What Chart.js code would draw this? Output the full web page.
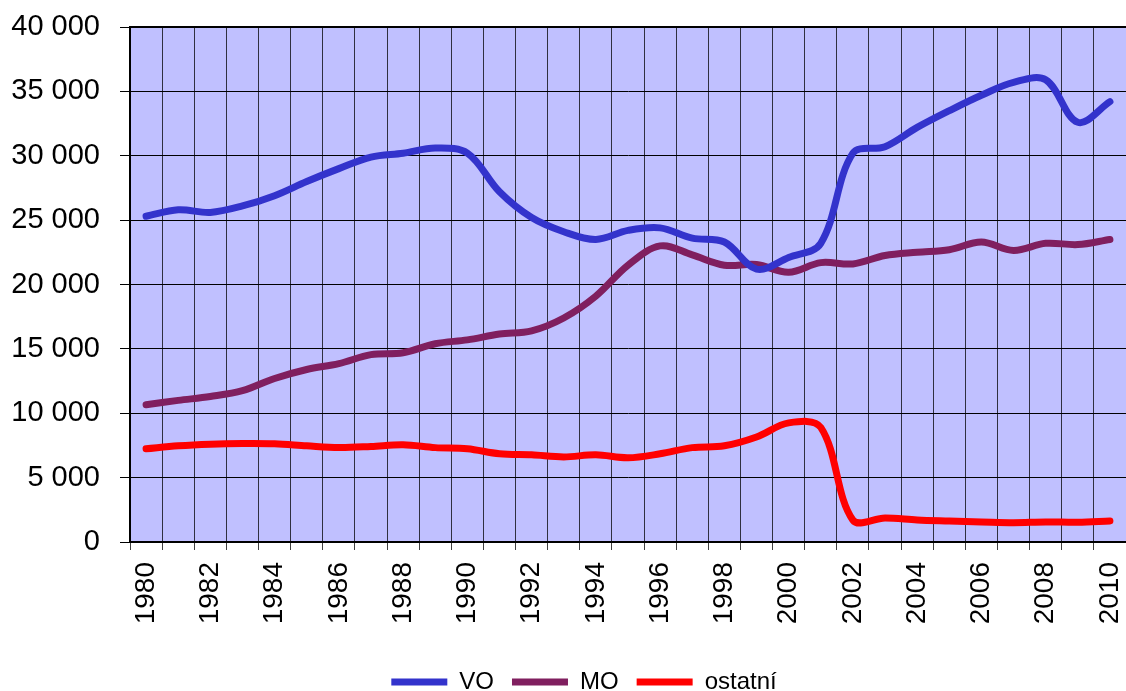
<!DOCTYPE html>
<html>
<head>
<meta charset="utf-8">
<script src="https://cdn.jsdelivr.net/npm/chart.js@4/dist/chart.umd.min.js"></script>
<style>
  html, body { margin: 0; padding: 0; background: #fff; }
  canvas { display: block; }
</style>
</head>
<body>
<canvas id="grafica" width="1126" height="691"></canvas>
<script>
// --- Datos ---
const roky = ['1980','1981','1982','1983','1984','1985','1986','1987','1988','1989',
              '1990','1991','1992','1993','1994','1995','1996','1997','1998','1999',
              '2000','2001','2002','2003','2004','2005','2006','2007','2008','2009','2010'];

const hodnotyVO = [25300, 25800, 25600, 26100, 26900, 28000, 29000, 29900, 30200, 30600,
                   30200, 27200, 25200, 24100, 23500, 24200, 24400, 23600, 23300, 21200,
                   22100, 23200, 30200, 30700, 32200, 33500, 34700, 35700, 35900, 32600, 34200];

const hodnotyMO = [10660, 11000, 11300, 11750, 12700, 13400, 13850, 14550, 14700, 15400,
                   15700, 16150, 16400, 17400, 19100, 21500, 23000, 22300, 21500, 21550,
                   20950, 21700, 21600, 22250, 22500, 22700, 23300, 22650, 23200, 23100, 23500];

const hodnotyOstatni = [7240, 7470, 7600, 7650, 7630, 7470, 7340, 7420, 7550, 7330,
                        7240, 6850, 6770, 6610, 6770, 6540, 6850, 7330, 7470, 8150,
                        9250, 8900, 1700, 1870, 1710, 1630, 1560, 1500, 1560, 1530, 1630];

const osaY = { min: 0, max: 40000, krok: 5000 };

const fuente = "'Liberation Sans', Arial, sans-serif";

// Fondo y marco del área de trazado
const fondoPlot = {
    id: 'fondoPlot',
    afterLayout(chart) {
        // movemos la leyenda abajo y un poco a la derecha
        const lg = chart.legend;
        if (lg) {
            lg.top += 13;
            lg.bottom += 13;
            lg.left += 21;
            lg.right += 21;
        }
    },
    beforeDraw(chart) {
        const { ctx, chartArea: a } = chart;
        ctx.save();
        ctx.fillStyle = '#C0C0FF';
        ctx.fillRect(a.left, a.top, a.right - a.left, a.bottom - a.top);
        ctx.restore();
    },
    afterDatasetsDraw(chart) {
        const { ctx, chartArea: a } = chart;
        ctx.save();
        ctx.strokeStyle = '#000';
        ctx.lineWidth = 2;
        ctx.beginPath();
        ctx.moveTo(a.left, a.top);
        ctx.lineTo(a.right, a.top);
        ctx.stroke();
        ctx.restore();
    }
};

const serie = (label, data, color) => ({
    label,
    data,
    borderColor: color,
    backgroundColor: color,
    borderWidth: 7,
    borderCapStyle: 'round',
    borderJoinStyle: 'round',
    pointRadius: 0,
    pointHoverRadius: 0,
    tension: 0.35,
    fill: false
});

new Chart(document.getElementById('grafica').getContext('2d'), {
    type: 'line',
    data: {
        labels: roky,
        datasets: [
            serie('VO', hodnotyVO, '#3333CC'),
            serie('MO', hodnotyMO, '#801F5F'),
            serie('ostatní', hodnotyOstatni, '#FF0000')
        ]
    },
    options: {
        responsive: false,
        animation: false,
        layout: { padding: { top: 27, right: 0, bottom: 0, left: 0 } },
        plugins: {
            tooltip: { enabled: false },
            legend: {
                position: 'bottom',
                labels: {
                    color: '#000',
                    font: { family: fuente, size: 24 },
                    usePointStyle: true,
                    pointStyle: 'line',
                    boxWidth: 56,
                    pointStyleWidth: 56,
                    padding: 18
                }
            }
        },
        scales: {
            x: {
                offset: true,
                grid: { offset: true, color: 'rgba(0,0,0,0.75)', lineWidth: 1, tickLength: 8 },
                border: { color: '#000', width: 2 },
                ticks: {
                    color: '#000',
                    font: { family: fuente, size: 28 },
                    autoSkip: false,
                    minRotation: 90,
                    maxRotation: 90,
                    padding: 12,
                    callback: (v, i) => (i % 2 === 0 ? roky[i] : '')
                },
                afterFit: (s) => {
                    s.height = 97;
                    s.paddingLeft = 0;
                    s.paddingRight = 0;
                }
            },
            y: {
                min: osaY.min,
                max: osaY.max,
                grid: { color: '#000', lineWidth: 1, tickLength: 10 },
                border: { color: '#000', width: 2 },
                ticks: {
                    stepSize: osaY.krok,
                    color: '#000',
                    font: { family: fuente, size: 29 },
                    padding: 20,
                    callback: (v) => v.toLocaleString('cs-CZ').replace(/\s/g, ' ')
                },
                afterFit: (s) => {
                    s.width = 130;
                    s.paddingTop = 0;
                    s.paddingBottom = 0;
                }
            }
        }
    },
    plugins: [fondoPlot]
});
</script>
</body>
</html>
